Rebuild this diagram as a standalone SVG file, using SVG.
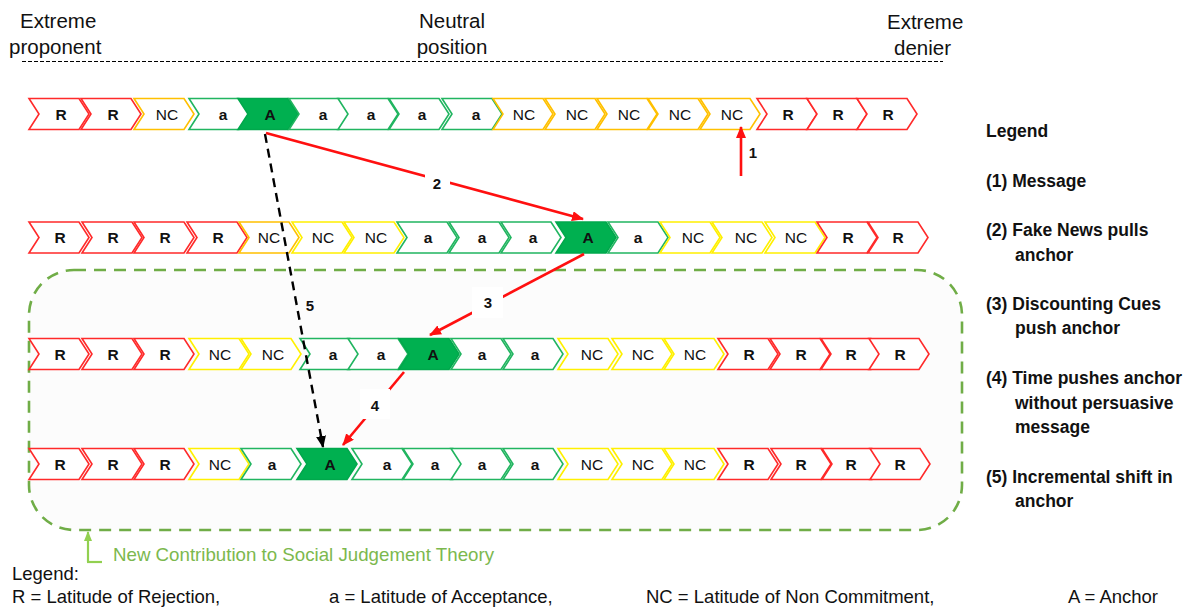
<svg xmlns="http://www.w3.org/2000/svg" xmlns:xlink="http://www.w3.org/1999/xlink" width="1193" height="607" viewBox="0 0 1193 607">
  <style>
    .r{fill:#fff;stroke:#FF2A2A;stroke-width:1.6}
    .g{fill:#fff;stroke:#21B560;stroke-width:1.6}
    .o{fill:#fff;stroke:#FFC000;stroke-width:1.6}
    .y{fill:#fff;stroke:#FFF000;stroke-width:1.6}
    .A{fill:#00B050;stroke:#00A84C;stroke-width:1.6}
    text{font-family:"Liberation Sans",Arial,sans-serif;fill:#111}
    .t{font-size:15.5px;text-anchor:middle}
    .b{font-weight:bold}
    .hd{font-size:20.5px}
    .lg{font-size:17.5px;font-weight:bold}
    .bt{font-size:18.5px}
    .num{font-size:15px;font-weight:bold;text-anchor:middle}
    .red{stroke:#FF1010;stroke-width:2.6;fill:none}
  </style>
  <defs>
    <path id="chev" d="M0,0H50L60,15.5L50,31H0L10,15.5Z"/>
    <marker id="ahRed" markerUnits="userSpaceOnUse" markerWidth="12" markerHeight="10" refX="11" refY="5" orient="auto">
      <path d="M0,0L12,5L0,10Z" fill="#FF1010"/>
    </marker>
    <marker id="ahBlk" markerUnits="userSpaceOnUse" markerWidth="12" markerHeight="10" refX="11" refY="5" orient="auto">
      <path d="M0,0L12,5L0,10Z" fill="#000"/>
    </marker>
    <marker id="ahGrn" markerUnits="userSpaceOnUse" markerWidth="10" markerHeight="8" refX="9" refY="4" orient="auto">
      <path d="M0,0L10,4L0,8Z" fill="#92D050"/>
    </marker>
  </defs>

  <!-- scale header -->
  <g id="scale">
    <text class="hd" x="20" y="28">Extreme</text>
    <text class="hd" x="9" y="54">proponent</text>
    <text class="hd" x="452" y="28" text-anchor="middle">Neutral</text>
    <text class="hd" x="452" y="54" text-anchor="middle">position</text>
    <text class="hd" x="887" y="29">Extreme</text>
    <text class="hd" x="894" y="55">denier</text>
    <line x1="22" y1="61.5" x2="943" y2="61.5" stroke="#000" stroke-width="1" stroke-dasharray="4 2"/>
  </g>

  <!-- region of the new contribution -->
  <g id="contribution">
    <rect x="29" y="270" width="933" height="260" rx="45" ry="45" fill="#FCFCFC" stroke="#70AD47" stroke-width="2.6" stroke-dasharray="12 8"/>
    <path d="M88,562V532" stroke="#92D050" stroke-width="2.2" fill="none" marker-end="url(#ahGrn)"/>
    <path d="M87,562H102" stroke="#92D050" stroke-width="2.2" fill="none"/>
    <text x="113" y="561" font-size="18.5" style="fill:#7CB84E" textLength="381" lengthAdjust="spacingAndGlyphs">New Contribution to Social Judgement Theory</text>
  </g>

  <!-- row 1 : starting position -->
  <g id="row1">
    <g id="r1c1"><use href="#chev" x="29" y="98.5" class="r"/><text class="t b" x="61" y="119.5">R</text></g>
    <g id="r1c2"><use href="#chev" x="81" y="98.5" class="r"/><text class="t b" x="113" y="119.5">R</text></g>
    <g id="r1c3"><use href="#chev" x="134" y="98.5" class="o"/><text class="t" x="167" y="119.5">NC</text></g>
    <g id="r1c4"><use href="#chev" x="189" y="98.5" class="g"/><text class="t b" x="223" y="119.5">a</text></g>
    <g id="r1c5"><use href="#chev" x="238" y="98.5" class="A"/><text class="t b" x="270" y="119.5">A</text></g>
    <g id="r1c6"><use href="#chev" x="289" y="98.5" class="g"/><text class="t b" x="323" y="119.5">a</text></g>
    <g id="r1c7"><use href="#chev" x="338" y="98.5" class="g"/><text class="t b" x="371" y="119.5">a</text></g>
    <g id="r1c8"><use href="#chev" x="389" y="98.5" class="g"/><text class="t b" x="422" y="119.5">a</text></g>
    <g id="r1c9"><use href="#chev" x="442" y="98.5" class="g"/><text class="t b" x="476" y="119.5">a</text></g>
    <g id="r1c10"><use href="#chev" x="493" y="98.5" class="o"/><text class="t" x="524" y="119.5">NC</text></g>
    <g id="r1c11"><use href="#chev" x="545" y="98.5" class="o"/><text class="t" x="577" y="119.5">NC</text></g>
    <g id="r1c12"><use href="#chev" x="597" y="98.5" class="o"/><text class="t" x="629" y="119.5">NC</text></g>
    <g id="r1c13"><use href="#chev" x="648" y="98.5" class="o"/><text class="t" x="680" y="119.5">NC</text></g>
    <g id="r1c14"><use href="#chev" x="700" y="98.5" class="o"/><text class="t" x="732" y="119.5">NC</text></g>
    <g id="r1c15"><use href="#chev" x="757" y="98.5" class="r"/><text class="t b" x="788" y="119.5">R</text></g>
    <g id="r1c16"><use href="#chev" x="807" y="98.5" class="r"/><text class="t b" x="838" y="119.5">R</text></g>
    <g id="r1c17"><use href="#chev" x="857" y="98.5" class="r"/><text class="t b" x="888" y="119.5">R</text></g>
  </g>

  <!-- row 2 -->
  <g id="row2">
    <g id="r2c1"><use href="#chev" x="29" y="222" class="r"/><text class="t b" x="60" y="243">R</text></g>
    <g id="r2c2"><use href="#chev" x="82" y="222" class="r"/><text class="t b" x="113" y="243">R</text></g>
    <g id="r2c3"><use href="#chev" x="134" y="222" class="r"/><text class="t b" x="165" y="243">R</text></g>
    <g id="r2c4"><use href="#chev" x="187" y="222" class="r"/><text class="t b" x="218" y="243">R</text></g>
    <g id="r2c5"><use href="#chev" x="239" y="222" class="o"/><text class="t" x="269" y="243">NC</text></g>
    <g id="r2c6"><use href="#chev" x="292" y="222" class="y"/><text class="t" x="323" y="243">NC</text></g>
    <g id="r2c7"><use href="#chev" x="344" y="222" class="y"/><text class="t" x="376" y="243">NC</text></g>
    <g id="r2c8"><use href="#chev" x="397" y="222" class="g"/><text class="t b" x="428" y="243">a</text></g>
    <g id="r2c9"><use href="#chev" x="449" y="222" class="g"/><text class="t b" x="482" y="243">a</text></g>
    <g id="r2c10"><use href="#chev" x="501" y="222" class="g"/><text class="t b" x="533" y="243">a</text></g>
    <g id="r2c11"><use href="#chev" x="556" y="222" class="A"/><text class="t b" x="588" y="243">A</text></g>
    <g id="r2c12"><use href="#chev" x="608" y="222" class="g"/><text class="t b" x="638" y="243">a</text></g>
    <g id="r2c13"><use href="#chev" x="660" y="222" class="y"/><text class="t" x="693" y="243">NC</text></g>
    <g id="r2c14"><use href="#chev" x="712" y="222" class="y"/><text class="t" x="746" y="243">NC</text></g>
    <g id="r2c15"><use href="#chev" x="765" y="222" class="y"/><text class="t" x="796" y="243">NC</text></g>
    <g id="r2c16"><use href="#chev" x="817" y="222" class="r"/><text class="t b" x="848" y="243">R</text></g>
    <g id="r2c17"><use href="#chev" x="868" y="222" class="r"/><text class="t b" x="898" y="243">R</text></g>
  </g>

  <!-- row 3 -->
  <g id="row3">
    <g id="r3c1"><use href="#chev" x="29" y="338.5" class="r"/><text class="t b" x="60" y="359.5">R</text></g>
    <g id="r3c2"><use href="#chev" x="82" y="338.5" class="r"/><text class="t b" x="113" y="359.5">R</text></g>
    <g id="r3c3"><use href="#chev" x="134" y="338.5" class="r"/><text class="t b" x="165" y="359.5">R</text></g>
    <g id="r3c4"><use href="#chev" x="189" y="338.5" class="y"/><text class="t" x="220" y="359.5">NC</text></g>
    <g id="r3c5"><use href="#chev" x="241" y="338.5" class="y"/><text class="t" x="273" y="359.5">NC</text></g>
    <g id="r3c6"><use href="#chev" x="300" y="338.5" class="g"/><text class="t b" x="333" y="359.5">a</text></g>
    <g id="r3c7"><use href="#chev" x="348" y="338.5" class="g"/><text class="t b" x="381" y="359.5">a</text></g>
    <g id="r3c8"><use href="#chev" x="399" y="338.5" class="A"/><text class="t b" x="433" y="359.5">A</text></g>
    <g id="r3c9"><use href="#chev" x="451" y="338.5" class="g"/><text class="t b" x="482" y="359.5">a</text></g>
    <g id="r3c10"><use href="#chev" x="503" y="338.5" class="g"/><text class="t b" x="535" y="359.5">a</text></g>
    <g id="r3c11"><use href="#chev" x="558" y="338.5" class="y"/><text class="t" x="592" y="359.5">NC</text></g>
    <g id="r3c12"><use href="#chev" x="612" y="338.5" class="y"/><text class="t" x="643" y="359.5">NC</text></g>
    <g id="r3c13"><use href="#chev" x="664" y="338.5" class="y"/><text class="t" x="695" y="359.5">NC</text></g>
    <g id="r3c14"><use href="#chev" x="718" y="338.5" class="r"/><text class="t b" x="749" y="359.5">R</text></g>
    <g id="r3c15"><use href="#chev" x="770" y="338.5" class="r"/><text class="t b" x="801" y="359.5">R</text></g>
    <g id="r3c16"><use href="#chev" x="821" y="338.5" class="r"/><text class="t b" x="851" y="359.5">R</text></g>
    <g id="r3c17"><use href="#chev" x="869" y="338.5" class="r"/><text class="t b" x="900" y="359.5">R</text></g>
  </g>

  <!-- row 4 -->
  <g id="row4">
    <g id="r4c1"><use href="#chev" x="29" y="448.5" class="r"/><text class="t b" x="60" y="469.5">R</text></g>
    <g id="r4c2"><use href="#chev" x="82" y="448.5" class="r"/><text class="t b" x="113" y="469.5">R</text></g>
    <g id="r4c3"><use href="#chev" x="134" y="448.5" class="r"/><text class="t b" x="165" y="469.5">R</text></g>
    <g id="r4c4"><use href="#chev" x="189" y="448.5" class="y"/><text class="t" x="220" y="469.5">NC</text></g>
    <g id="r4c5"><use href="#chev" x="241" y="448.5" class="g"/><text class="t b" x="272" y="469.5">a</text></g>
    <g id="r4c6"><use href="#chev" x="297" y="448.5" class="A"/><text class="t b" x="330" y="469.5">A</text></g>
    <g id="r4c7"><use href="#chev" x="352" y="448.5" class="g"/><text class="t b" x="387" y="469.5">a</text></g>
    <g id="r4c8"><use href="#chev" x="403" y="448.5" class="g"/><text class="t b" x="435" y="469.5">a</text></g>
    <g id="r4c9"><use href="#chev" x="451" y="448.5" class="g"/><text class="t b" x="482" y="469.5">a</text></g>
    <g id="r4c10"><use href="#chev" x="503" y="448.5" class="g"/><text class="t b" x="535" y="469.5">a</text></g>
    <g id="r4c11"><use href="#chev" x="558" y="448.5" class="y"/><text class="t" x="592" y="469.5">NC</text></g>
    <g id="r4c12"><use href="#chev" x="612" y="448.5" class="y"/><text class="t" x="643" y="469.5">NC</text></g>
    <g id="r4c13"><use href="#chev" x="664" y="448.5" class="y"/><text class="t" x="695" y="469.5">NC</text></g>
    <g id="r4c14"><use href="#chev" x="718" y="448.5" class="r"/><text class="t b" x="749" y="469.5">R</text></g>
    <g id="r4c15"><use href="#chev" x="771" y="448.5" class="r"/><text class="t b" x="801" y="469.5">R</text></g>
    <g id="r4c16"><use href="#chev" x="822" y="448.5" class="r"/><text class="t b" x="851" y="469.5">R</text></g>
    <g id="r4c17"><use href="#chev" x="870" y="448.5" class="r"/><text class="t b" x="900" y="469.5">R</text></g>
  </g>

  <!-- connectors and their numbers -->
  <g id="connectors">
    <line x1="265" y1="134" x2="323" y2="447" stroke="#000" stroke-width="2.4" stroke-dasharray="9 6" marker-end="url(#ahBlk)"/>
    <line class="red" x1="741" y1="176" x2="741" y2="127" marker-end="url(#ahRed)"/>
    <line class="red" x1="266" y1="133" x2="583" y2="219" marker-end="url(#ahRed)"/>
    <line class="red" x1="584" y1="254" x2="430" y2="335" marker-end="url(#ahRed)"/>
    <line class="red" x1="404" y1="372" x2="343" y2="445" marker-end="url(#ahRed)"/>
    <rect x="425" y="170" width="25" height="27" fill="#fff"/>
    <rect x="472" y="287" width="31" height="31" fill="#fff"/>
    <rect x="360" y="389" width="30" height="30" fill="#fff"/>
    <text class="num" x="753" y="158">1</text>
    <text class="num" x="437" y="189">2</text>
    <text class="num" x="488" y="308">3</text>
    <text class="num" x="375" y="411">4</text>
    <text class="num" x="310" y="311">5</text>
  </g>

  <!-- numbered legend -->
  <g id="legend-steps">
    <text class="lg" x="986" y="137">Legend</text>
    <text class="lg" x="986" y="187">(1) Message</text>
    <text class="lg" x="986" y="236">(2) Fake News pulls</text>
    <text class="lg" x="1015" y="261">anchor</text>
    <text class="lg" x="986" y="310">(3) Discounting Cues</text>
    <text class="lg" x="1015" y="334">push anchor</text>
    <text class="lg" x="986" y="384">(4) Time pushes anchor</text>
    <text class="lg" x="1015" y="409">without persuasive</text>
    <text class="lg" x="1015" y="433">message</text>
    <text class="lg" x="986" y="483">(5) Incremental shift in</text>
    <text class="lg" x="1015" y="507">anchor</text>
  </g>

  <!-- abbreviation key -->
  <g id="legend-key">
    <text class="bt" x="12" y="580">Legend:</text>
    <text class="bt" x="12" y="603">R = Latitude of Rejection,</text>
    <text class="bt" x="329" y="603">a = Latitude of Acceptance,</text>
    <text class="bt" x="646" y="603">NC = Latitude of Non Commitment,</text>
    <text class="bt" x="1068" y="603">A = Anchor</text>
  </g>
</svg>
